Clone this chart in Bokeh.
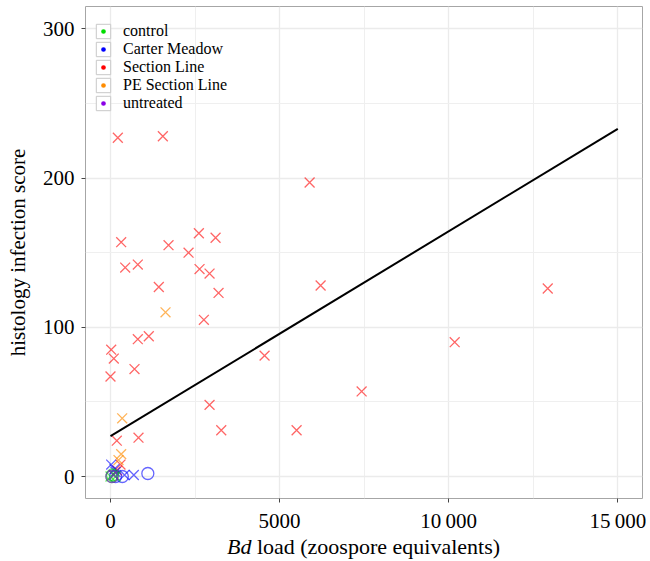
from bokeh.plotting import figure
from bokeh.layouts import column
from bokeh.models import ColumnDataSource, FixedTicker, Legend, LegendItem, Range1d, Div
from bokeh.embed import file_html
from bokeh.resources import INLINE

# sites and their colours
sites = ["control", "Carter Meadow", "Section Line", "PE Section Line", "untreated"]
site_colors = ["#00DD00", "#0000FF", "#FF0000", "#FF8C00", "#8A00E6"]

# Section Line frogs
section_load = [217, 1548, 316, 1716, 2613, 3107, 2308, 435, 808, 2633, 2929, 1429, 3195,
                2761, 808, 1133, 21, 98, 710, 0, 4556, 5888, 6213, 10178, 12929, 7426,
                2929, 3275, 5503, 828, 187, 296, 200]
section_score = [227, 228, 157, 155, 163, 160, 150, 140, 142, 139, 136, 127, 123,
                 105, 92, 94, 85, 79, 72, 67, 81, 197, 128, 90, 126, 57,
                 48, 31, 31, 26, 24, 8, 4]
section_mark = ["x"] * 33

# PE Section Line frogs
pe_load = [1627, 346, 316, 237]
pe_score = [110, 39, 15, 11]
pe_mark = ["x", "x", "x", "x"]

# Carter Meadow frogs
carter_load = [20, 118, 150, 414, 690, 1104, 350, 150]
carter_score = [8, 5, 3, 1, 1, 2, 0, 0]
carter_mark = ["x", "x", "x", "x", "x", "circle", "circle", "circle"]

# controls
control_load = [0, 40, 100, 150, 60]
control_score = [0, 0, 1, 0, 1]
control_mark = ["x", "circle", "x", "x", "circle"]

# untreated
untreated_load = [40, 90]
untreated_score = [0, 1]
untreated_mark = ["circle", "x"]

# linear fit
fit_intercept = 27.0
fit_slope = 0.01373
fit_load = [0, 15000]

x_ticks = [0, 5000, 10000, 15000]
x_minor = [2500, 7500, 12500]
y_ticks = [0, 100, 200, 300]
y_minor = [50, 150, 250]

serif = "Liberation Serif"

p = figure(width=646, height=535, output_backend="svg", toolbar_location=None,
           x_range=Range1d(-739, 15731), y_range=Range1d(-14.74, 314.95),
           min_border_left=85, min_border_right=4, min_border_top=6, min_border_bottom=37)
p.background_fill_color = "white"
p.outline_line_color = "#A6A6A6"
p.outline_line_width = 1

p.xaxis.ticker = FixedTicker(ticks=x_ticks, minor_ticks=x_minor)
p.yaxis.ticker = FixedTicker(ticks=y_ticks, minor_ticks=y_minor)
p.xgrid.ticker = FixedTicker(ticks=x_ticks, minor_ticks=x_minor)
p.ygrid.ticker = FixedTicker(ticks=y_ticks, minor_ticks=y_minor)
p.xaxis.major_label_overrides = {10000: "10\u2009000", 15000: "15\u2009000"}

for g in (p.xgrid, p.ygrid):
    g.grid_line_color = "#EBEBEB"
    g.grid_line_width = 1.3
    g.minor_grid_line_color = "#EFEFEF"
    g.minor_grid_line_width = 1

for ax in (p.xaxis, p.yaxis):
    ax.axis_line_color = None
    ax.major_tick_line_color = "#444444"
    ax.major_tick_out = 4
    ax.major_tick_in = 0
    ax.minor_tick_line_color = None
    ax.major_label_text_font = serif
    ax.major_label_text_font_size = "21px"
    ax.major_label_text_color = "black"

p.xaxis.major_label_standoff = 6
p.yaxis.major_label_standoff = 7
p.yaxis.axis_label = "histology infection score"
p.yaxis.axis_label_text_font = serif
p.yaxis.axis_label_text_font_size = "21px"
p.yaxis.axis_label_text_font_style = "normal"
p.yaxis.axis_label_text_color = "black"
p.yaxis.axis_label_standoff = 10

groups = [
    (section_load, section_score, section_mark, "#FF0000", 0.6),
    (pe_load, pe_score, pe_mark, "#FF8C00", 0.65),
    (carter_load, carter_score, carter_mark, "#0000FF", 0.6),
    (control_load, control_score, control_mark, "#00DD00", 0.6),
    (untreated_load, untreated_score, untreated_mark, "#8A00E6", 0.6),
]
for load, score, mark, col, alpha in groups:
    sizes = [14 if m == "x" else 12 for m in mark]
    src = ColumnDataSource(dict(x=load, y=score, m=mark, s=sizes))
    p.scatter("x", "y", marker="m", size="s", source=src, fill_color=None,
              line_color=col, line_alpha=alpha, line_width=1.3)

# regression line
fit_score = [fit_intercept + fit_slope * v for v in fit_load]
p.line(fit_load, fit_score, line_color="black", line_width=2)

# legend with boxed keys (helper renderers hold no visible data)
nan = float("nan")
items = []
for name, col in zip(sites, site_colors):
    box = p.rect(x=[nan], y=[nan], width=1, height=1, fill_color="white",
                 line_color="#C8C8C8", line_width=1)
    dot = p.scatter(x=[nan], y=[nan], marker="circle", size=8, fill_color=col,
                    line_color="white", line_width=2.5)
    items.append(LegendItem(label=name, renderers=[box, dot]))

legend = Legend(items=items, location=(9, 386), margin=0, padding=0, spacing=0,
                glyph_width=18, glyph_height=18, label_height=18, label_standoff=11,
                border_line_color=None, background_fill_alpha=0,
                label_text_font=serif, label_text_font_size="16px",
                label_text_color="black")
p.add_layout(legend)

# x axis title with italic Bd
xlabel = Div(text="<i>Bd</i> load (zoospore equivalents)", width=557, height=24,
             margin=(0, 0, 0, 85),
             styles={"text-align": "center", "font-family": serif, "font-size": "22px",
                     "line-height": "24px", "color": "black"})

layout = column(p, xlabel, spacing=0)
open("out.html", "w").write(file_html(layout, INLINE))
